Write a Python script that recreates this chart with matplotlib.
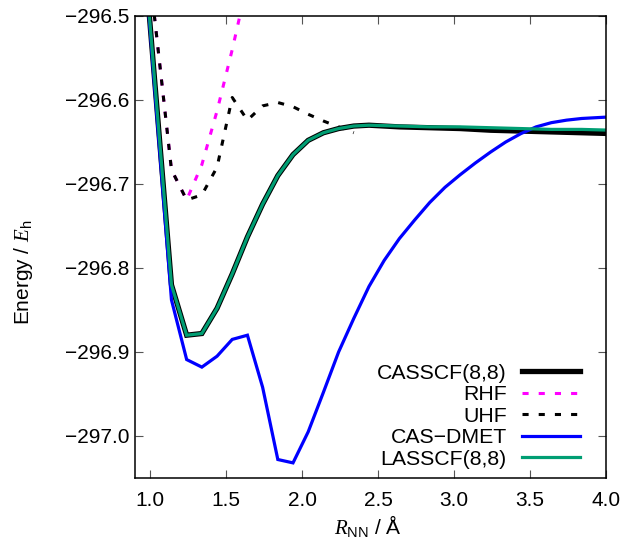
import matplotlib
matplotlib.use("Agg")
import matplotlib.pyplot as plt

plt.rcParams['font.family'] = ['Liberation Sans', 'DejaVu Sans']
plt.rcParams['mathtext.fontset'] = 'custom'
plt.rcParams['mathtext.rm'] = 'Liberation Sans'
plt.rcParams['mathtext.it'] = 'Liberation Serif:italic'

# ---- data ----
r_cas = [0.94, 1.04, 1.14, 1.24, 1.34, 1.44, 1.54, 1.64, 1.74, 1.84, 1.94, 2.04, 2.14,
         2.24, 2.34, 2.44, 2.64, 2.84, 3.04, 3.24, 3.44, 3.64, 3.84, 4.04]
e_casscf = [-296.38, -296.60, -296.820, -296.880, -296.878, -296.848, -296.807, -296.763,
            -296.724, -296.690, -296.665, -296.648, -296.639, -296.634, -296.631, -296.630,
            -296.632, -296.633, -296.634, -296.636, -296.637, -296.638, -296.639, -296.640]
e_lasscf = [-296.38, -296.60, -296.820, -296.880, -296.878, -296.848, -296.807, -296.763,
            -296.724, -296.690, -296.665, -296.648, -296.639, -296.634, -296.631, -296.630,
            -296.631, -296.632, -296.632, -296.633, -296.634, -296.635, -296.635, -296.636]

r_rhf = [0.94, 1.04, 1.14, 1.24, 1.34, 1.44, 1.54, 1.64]
e_rhf = [-296.36, -296.52, -296.683, -296.719, -296.677, -296.613, -296.540, -296.46]

r_uhf = [0.94, 1.04, 1.14, 1.24, 1.34, 1.44, 1.54, 1.64, 1.74, 1.84, 1.94, 2.04, 2.14,
         2.24, 2.34]
e_uhf = [-296.36, -296.52, -296.683, -296.719, -296.713, -296.680, -296.597, -296.624,
         -296.607, -296.603, -296.608, -296.617, -296.625, -296.632, -296.639]

r_dmet = [0.94, 1.04, 1.14, 1.24, 1.34, 1.44, 1.54, 1.64, 1.74, 1.84, 1.94, 2.04, 2.14,
          2.24, 2.34, 2.44, 2.54, 2.64, 2.74, 2.84, 2.94, 3.04, 3.14, 3.24, 3.34, 3.44,
          3.54, 3.64, 3.74, 3.84, 3.94, 4.04]
e_dmet = [-296.38, -296.61, -296.838, -296.909, -296.918, -296.905, -296.885, -296.880,
          -296.942, -297.028, -297.032, -296.995, -296.948, -296.900, -296.860, -296.822,
          -296.791, -296.765, -296.743, -296.722, -296.704, -296.689, -296.675, -296.662,
          -296.650, -296.640, -296.632, -296.627, -296.624, -296.622, -296.621, -296.620]

xticks = [1.0, 1.5, 2.0, 2.5, 3.0, 3.5, 4.0]
yticks = [-297.0, -296.9, -296.8, -296.7, -296.6, -296.5]

FS = 15
fig = plt.figure(figsize=(6.23, 5.42), dpi=100)
ax = fig.add_axes([135/623, 1-478/542, (606-135)/623, (478-16)/542])

dash = (0, (2.0, 3.3))
ax.plot(r_cas, e_casscf, color='black', lw=3.8, label='CASSCF(8,8)', solid_joinstyle='miter')
ax.plot(r_rhf, e_rhf, color='#ff00ff', lw=2.2, linestyle=dash, label='RHF')
ax.plot(r_uhf, e_uhf, color='black', lw=2.2, linestyle=dash, label='UHF')
ax.plot(r_dmet, e_dmet, color='#0000ff', lw=2.3, label='CAS\u2212DMET', solid_joinstyle='miter')
ax.plot(r_cas, e_lasscf, color='#009e73', lw=2.3, label='LASSCF(8,8)', solid_joinstyle='miter')

ax.set_xlim(0.9, 4.0)
ax.set_ylim(-297.05, -296.5)
ax.set_xticks(xticks)
ax.set_xticklabels([f"{v:.1f}" for v in xticks])
ax.set_yticks(yticks)
ax.set_yticklabels([f"\u2212{abs(v):.1f}" for v in yticks])
ax.tick_params(direction='in', length=6, width=0.8, color='#555555', labelsize=FS,
               top=True, right=True)
ax.tick_params(axis='x', pad=9)
ax.tick_params(axis='y', pad=4)
for s in ax.spines.values():
    s.set_linewidth(1.1)

ax.set_xlabel(r'$\mathit{R}_\mathrm{NN}$ / Å', fontsize=FS)
ax.set_ylabel(r'Energy / $\mathit{E}_\mathrm{h}$', fontsize=FS)
ax.xaxis.label.set_va('baseline')
ax.xaxis.set_label_coords(0.495, -0.121)
ax.yaxis.set_label_coords(-0.212, 0.446)

leg = ax.legend(loc='lower right', bbox_to_anchor=(0.945, 0.02), frameon=False,
                markerfirst=False, fontsize=15.3, handlelength=2.75, handletextpad=0.7,
                labelspacing=0.12, borderpad=0, borderaxespad=0)

fig.savefig('out.png', dpi=100)
